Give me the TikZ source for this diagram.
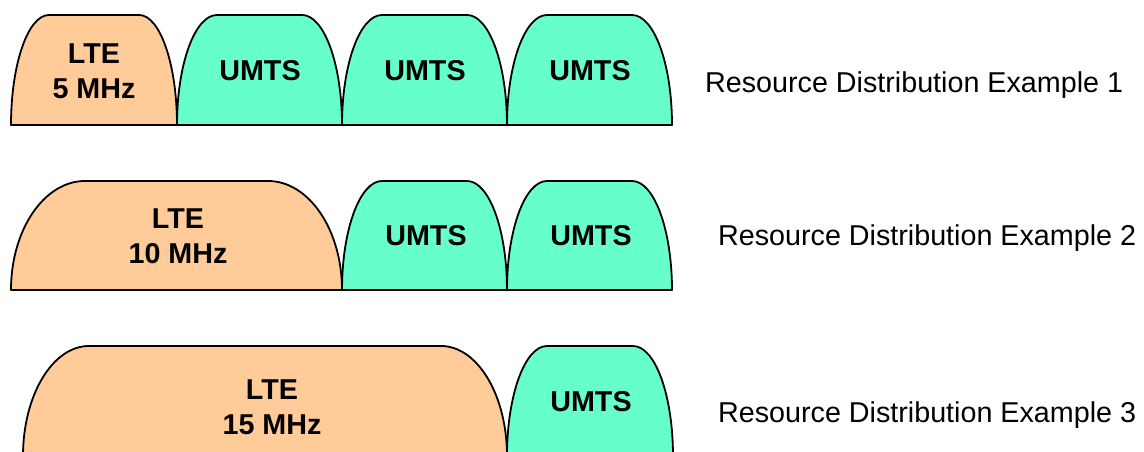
\documentclass[tikz,border=0pt]{standalone}
\usepackage{fontspec}
\setmainfont{Liberation Sans}
\definecolor{ltefill}{HTML}{FFCC99}
\definecolor{umtsfill}{HTML}{66FFCC}

% carrier{style}{left x}{right x}{base y}{corner width}{height}
\newcommand\carrier[6]{%
  \path[#1] (#2,#4)
    arc[start angle=180, end angle=90, x radius=#5, y radius=#6]
    -- ({#3-#5},{#4+#6})
    arc[start angle=90, end angle=0, x radius=#5, y radius=#6]
    -- cycle;}

\begin{document}
\begin{tikzpicture}[x=1pt, y=1pt,
  band/.style={draw=black, line width=1.8pt, line join=round},
  lte/.style={band, fill=ltefill},
  umts/.style={band, fill=umtsfill},
  axisline/.style={draw=black, line width=2pt},
  lbl/.style={font=\fontsize{28.7}{35}\selectfont\bfseries, align=center, inner sep=0pt},
  caption/.style={font=\fontsize{28.7}{34}\selectfont, anchor=base west, inner sep=0pt}]
\useasboundingbox (0,0) rectangle (1144,452);
\clip (0,0) rectangle (1144,452);

% Example 1: 5 MHz LTE + three UMTS carriers
\carrier{lte}{11}{177}{327}{38}{110}
\carrier{umts}{177}{342}{327}{40}{110}
\carrier{umts}{342}{507}{327}{40}{110}
\carrier{umts}{507}{672}{327}{40}{110}
\draw[axisline] (11,327) -- (672,327);
\node[lbl] (lte1) at (94,381) {LTE\\5 MHz};
\node[lbl] (u1a) at (260,381) {UMTS};
\node[lbl] (u1b) at (425,381) {UMTS};
\node[lbl] (u1c) at (590,381) {UMTS};
\node[caption] (ex1) at (705,359.5) {Resource Distribution Example 1};

% Example 2: 10 MHz LTE + two UMTS carriers
\carrier{lte}{11}{342}{162}{74}{109}
\carrier{umts}{342}{507}{162}{40}{109}
\carrier{umts}{507}{672}{162}{40}{109}
\draw[axisline] (11,162) -- (672,162);
\node[lbl] (lte2) at (178,215.5) {LTE\\10 MHz};
\node[lbl] (u2a) at (426,216) {UMTS};
\node[lbl] (u2b) at (591,216) {UMTS};
\node[caption] (ex2) at (718,206) {Resource Distribution Example 2};

% Example 3: 15 MHz LTE + one UMTS carrier
\carrier{lte}{23}{507}{-4}{66}{110}
\carrier{umts}{507}{673}{-4}{40}{110}
\draw[axisline] (23,-4) -- (673,-4);
\node[lbl] (lte3) at (272,45) {LTE\\15 MHz};
\node[lbl] (u3a) at (591,50.5) {UMTS};
\node[caption] (ex3) at (718,29) {Resource Distribution Example 3};
\end{tikzpicture}
\end{document}
